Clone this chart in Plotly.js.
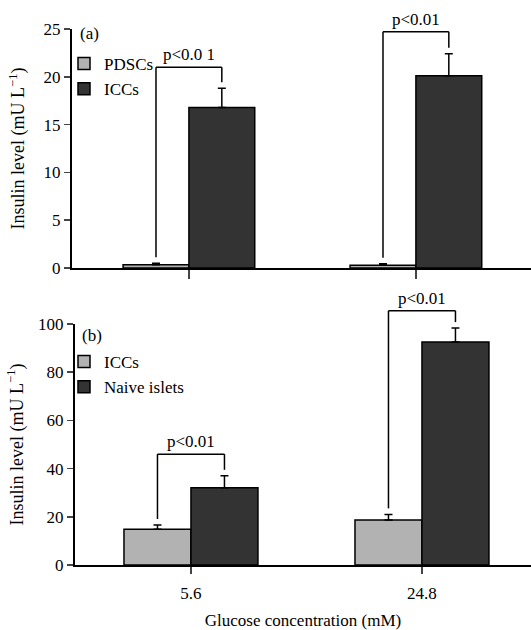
<!DOCTYPE html>
<html>
<head>
<meta charset="utf-8">
<script src="https://cdn.plot.ly/plotly-3.0.1.min.js"></script>
<style>
text, .legendtext, .annotation-text, .xtitle, .ytitle { font-family: 'Liberation Serif' !important; }
</style>
</head>
<body style="margin:0;background:#fff">
<div id="chart" style="width:531px;height:630px"></div>
<script>
// ---- data ----
const categories = ['5.6', '24.8'];
// panel (a)
const pdscsA = [0.35, 0.3];
const pdscsAErr = [0.15, 0.15];
const iccsA = [16.8, 20.1];
const iccsAErr = [2.0, 2.3];
const bracketTopA = [21.0, 24.7];
const pLabelsA = ['p<0.0 1', 'p<0.01'];
// panel (b)
const iccsB = [14.8, 18.7];
const iccsBErr = [1.8, 2.3];
const naiveB = [32.1, 92.5];
const naiveBErr = [4.9, 5.8];
const bracketTopB = [46.0, 105.5];
const pLabelsB = ['p<0.01', 'p<0.01'];

const W = 531, H = 630;
const FONT = 'Liberation Serif';
const LIGHT = '#b2b2b2', DARK = '#333333';
const bargap = 0.42;
const barW = (1 - bargap) / 2;

const xA = {domain: [72 / W, 1], range: [-0.515, 1.507]};
const yA = {domain: [1 - 268 / H, 1 - 29 / H], range: [0, 25]};
const xB = {domain: [75 / W, 1], range: [-0.502, 1.472]};
const yB = {domain: [1 - 565 / H, 1 - 324 / H], range: [0, 100]};

function bar(name, x, y, err, color, xa, ya, legend) {
  return {
    type: 'bar', name: name, x: x, y: y, xaxis: xa, yaxis: ya, legend: legend,
    marker: {color: color, line: {color: '#000', width: 1.5}},
    error_y: {type: 'data', array: err, symmetric: false, arrayminus: err.map(() => 0),
      color: '#000', thickness: 1.5, width: 4},
    hoverinfo: 'skip'
  };
}

const data = [
  bar('PDSCs', categories, pdscsA, pdscsAErr, LIGHT, 'x', 'y', 'legend'),
  bar('ICCs', categories, iccsA, iccsAErr, DARK, 'x', 'y', 'legend'),
  bar('ICCs', categories, iccsB, iccsBErr, LIGHT, 'x2', 'y2', 'legend2'),
  bar('Naive islets', categories, naiveB, naiveBErr, DARK, 'x2', 'y2', 'legend2')
];

const shapes = [];
const annotations = [];
const fx = (ax, v) => (v - ax.range[0]) / (ax.range[1] - ax.range[0]);
const unitsPerPx = (ay) => (ay.range[1] - ay.range[0]) / ((ay.domain[1] - ay.domain[0]) * H);

function bracketLines(xa, ya, xref, yref, v1, e1, v2, e2, tops, labels) {
  const gap = 6 * unitsPerPx(ya);
  for (let i = 0; i < categories.length; i++) {
    const xl = fx(xa, i - barW / 2), xr = fx(xa, i + barW / 2);
    const yl = fx(ya, v1[i] + e1[i] + gap);
    const yr = fx(ya, v2[i] + e2[i] + gap);
    const yt = fx(ya, tops[i]);
    const ln = {color: '#000', width: 1.5};
    const base = {type: 'line', xref: xref + ' domain', yref: yref + ' domain', line: ln};
    shapes.push(Object.assign({}, base, {x0: xl, x1: xl, y0: yl, y1: yt}));
    shapes.push(Object.assign({}, base, {x0: xl, x1: xr, y0: yt, y1: yt}));
    shapes.push(Object.assign({}, base, {x0: xr, x1: xr, y0: yt, y1: yr}));
    annotations.push({xref: xref + ' domain', yref: yref + ' domain',
      x: (xl + xr) / 2, y: yt, yshift: 1, xanchor: 'center', yanchor: 'bottom',
      text: labels[i], showarrow: false, font: {family: FONT, size: 17, color: '#000'}});
  }
}
bracketLines(xA, yA, 'x', 'y', pdscsA, pdscsAErr, iccsA, iccsAErr, bracketTopA, pLabelsA);
bracketLines(xB, yB, 'x2', 'y2', iccsB, iccsBErr, naiveB, naiveBErr, bracketTopB, pLabelsB);

annotations.push({xref: 'paper', yref: 'paper', x: 78 / W, y: 1 - 33 / H, xanchor: 'left', yanchor: 'middle',
  text: '(a)', showarrow: false, font: {family: FONT, size: 17, color: '#000'}});
annotations.push({xref: 'paper', yref: 'paper', x: 80 / W, y: 1 - 335 / H, xanchor: 'left', yanchor: 'middle',
  text: '(b)', showarrow: false, font: {family: FONT, size: 17, color: '#000'}});

const tickFont = {family: FONT, size: 17, color: '#000'};
function yaxis(dom, rng, dtick, anchor, standoff) {
  return {domain: dom, range: rng, dtick: dtick, ticks: 'outside', ticklen: 6, tickwidth: 1.5,
    showline: true, linewidth: 2, linecolor: '#000', showgrid: false, zeroline: false,
    tickfont: tickFont, anchor: anchor, fixedrange: true,
    title: {text: 'Insulin level (mU L<sup>−1</sup>)', font: {family: FONT, size: 18, color: '#000'}, standoff: standoff}};
}

const layout = {
  width: W, height: H,
  margin: {l: 0, r: 0, t: 0, b: 0},
  paper_bgcolor: '#fff', plot_bgcolor: '#fff',
  barmode: 'group', bargap: bargap, bargroupgap: 0,
  font: {family: FONT, size: 17, color: '#000'},
  xaxis: {domain: xA.domain, range: xA.range, type: 'category', anchor: 'y',
    showticklabels: false, ticks: 'outside', ticklen: 9, tickwidth: 1.5,
    showline: true, linewidth: 1.5, linecolor: '#000', showgrid: false, zeroline: false},
  yaxis: yaxis(yA.domain, yA.range, 5, 'x', 14),
  xaxis2: {domain: xB.domain, range: xB.range, type: 'category', anchor: 'y2',
    ticks: 'outside', ticklen: 7, tickwidth: 1.5, tickfont: tickFont, ticklabelstandoff: 5,
    showline: true, linewidth: 1.5, linecolor: '#000', showgrid: false, zeroline: false,
    title: {text: 'Glucose concentration (mM)', font: {family: FONT, size: 17, color: '#000'}, standoff: 12}},
  yaxis2: yaxis(yB.domain, yB.range, 20, 'x2', 10),
  legend: {x: 64 / W, y: 1 - 46 / H, xanchor: 'left', yanchor: 'top', bgcolor: 'rgba(0,0,0,0)',
    font: {family: FONT, size: 17, color: '#000'}, itemwidth: 30, tracegroupgap: 0, traceorder: 'normal'},
  legend2: {x: 64 / W, y: 1 - 344 / H, xanchor: 'left', yanchor: 'top', bgcolor: 'rgba(0,0,0,0)',
    font: {family: FONT, size: 17, color: '#000'}, itemwidth: 30, tracegroupgap: 0, traceorder: 'normal'},
  shapes: shapes,
  annotations: annotations
};

Plotly.newPlot('chart', data, layout, {displayModeBar: false, staticPlot: true});
</script>
</body>
</html>
